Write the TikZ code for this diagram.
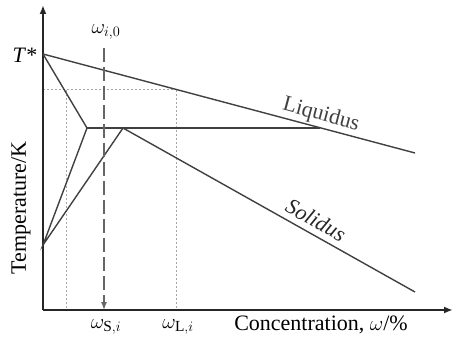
\documentclass[tikz,border=0pt]{standalone}
\usepackage{fontspec}
\setmainfont{Liberation Serif}
\usetikzlibrary{arrows.meta}

\begin{document}
\begin{tikzpicture}[x=1pt, y=-1pt, font=\fontsize{22}{26}\selectfont,
    phase/.style={draw=black!75, line width=1.4pt},
    guide/.style={draw=black!35, line width=1pt, dash pattern=on 2pt off 2pt},
    axis/.style={draw=black!85, line width=1.8pt, -{Latex[length=9pt, width=7pt]}}]
    \useasboundingbox (0,0) rectangle (453,342);
    \coordinate (o) at (43,310);
    \coordinate (xend) at (453,310);
    \coordinate (yend) at (43,5);
    \coordinate (tstar) at (43,54);
    \coordinate (liqend) at (415,153);
    \coordinate (e1) at (87,128);
    \coordinate (e2) at (123,128);
    \coordinate (h2) at (320,128);
    \coordinate (base) at (43,245);
    \coordinate (solend) at (415,292);
    \coordinate (g0) at (43,90);
    \coordinate (g1) at (66,90);
    \coordinate (g2) at (176,90);
    \coordinate (g1b) at (66,310);
    \coordinate (g2b) at (176,310);
    \coordinate (wtop) at (104,48);
    \coordinate (wbot) at (104,310);
    % guides
    \draw[guide] (g0) -- (g2);
    \draw[guide] (g1) -- (g1b);
    \draw[guide] (g2) -- (g2b);
    % axes
    \draw[axis] (o) -- (xend);
    \draw[axis] (o) -- (yend);
    % phase lines
    \draw[phase] (tstar) -- (liqend);
    \draw[phase] (tstar) -- (e1) -- (base) -- (e2) -- (solend);
    \draw[phase] (e1) -- (h2);
    \draw[draw=black!60, line width=1.4pt, dash pattern=on 14pt off 5pt,
        -{Latex[length=8pt, width=6pt]}] (wtop) -- (wbot);
    % labels
    \node (tlab) at (25,55) {\textit{T}*};
    \node (w0) at (106,32) {$\omega_{i,0}$};
    \node (ws) at (106,327) {$\omega_{\mathrm{S},i}$};
    \node (wl) at (178,327) {$\omega_{\mathrm{L},i}$};
    \node (conc) at (321,325) {Concentration, $\omega$/\%};
    \node[rotate=90] (temp) at (21,208) {Temperature/K};
    \node[rotate=-15, text=black!75] (liq) at (321,115) {Liquidus};
    \node[rotate=-29.3, text=black!85] (sol) at (316,220) {\textit{Solidus}};
\end{tikzpicture}
\end{document}
